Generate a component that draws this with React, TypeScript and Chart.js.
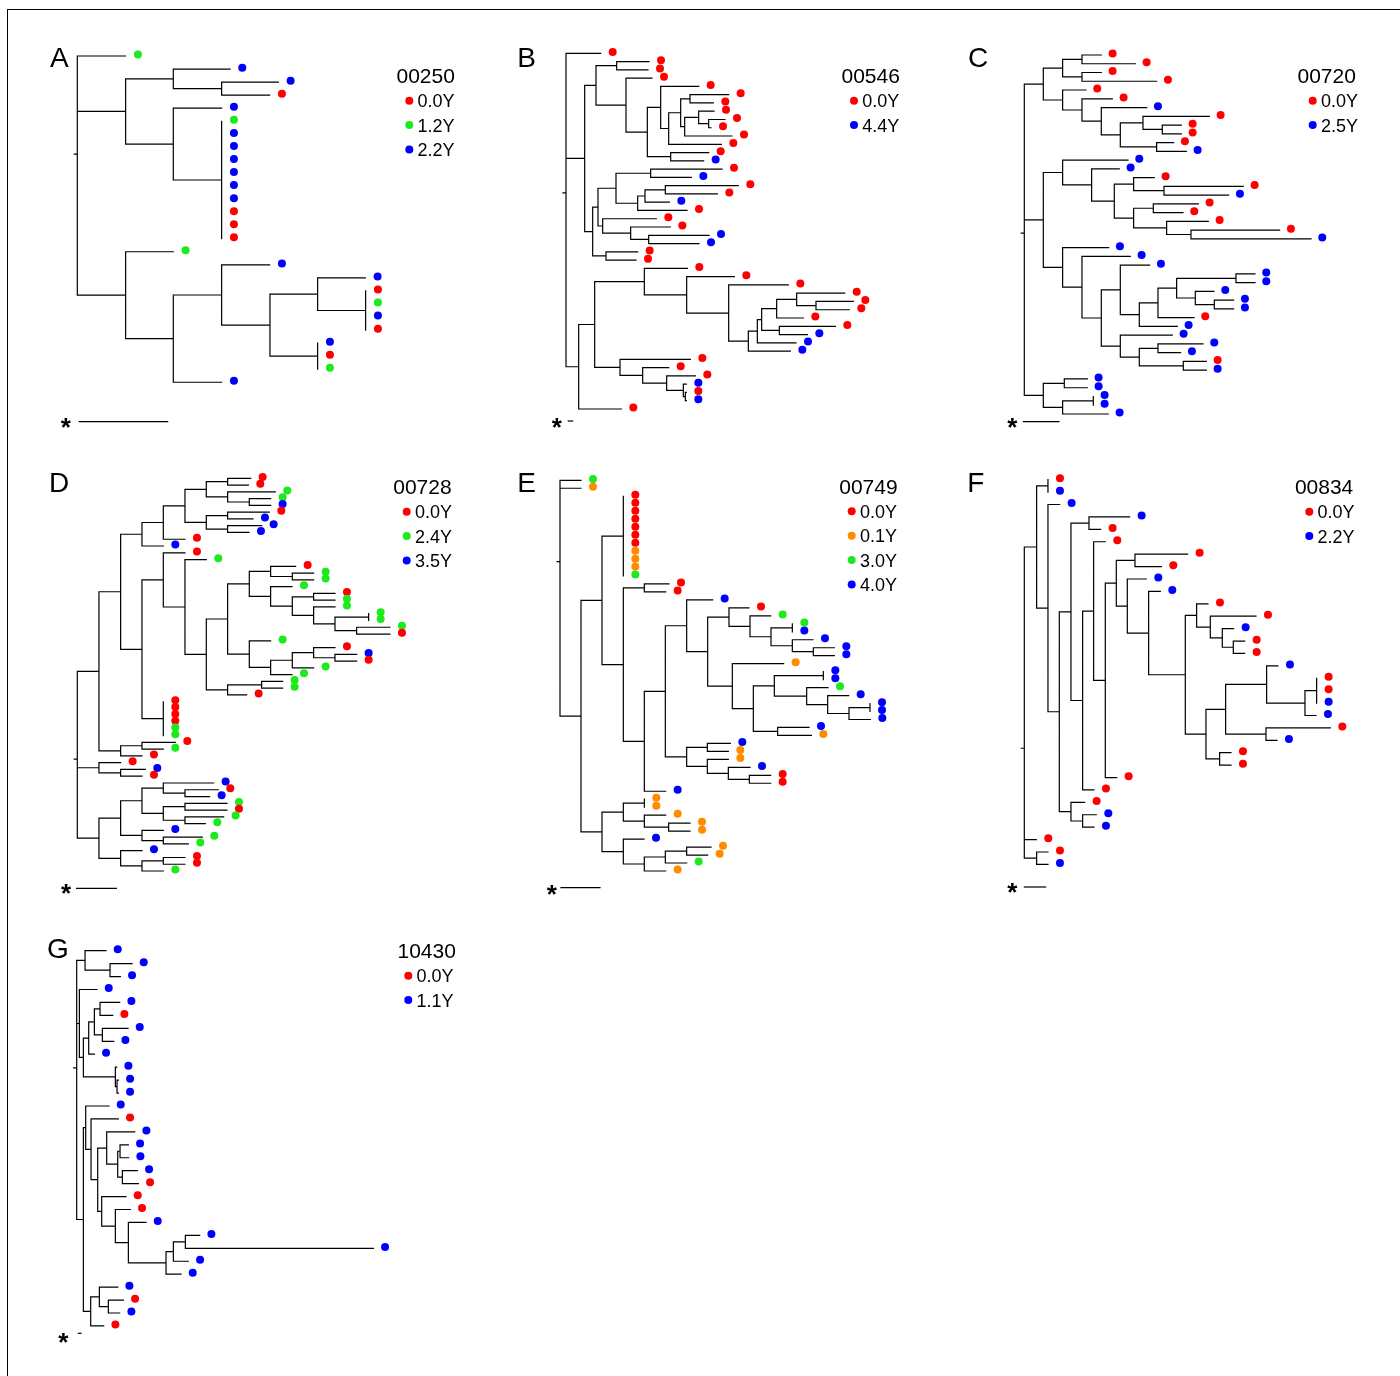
import React, { useEffect, useRef } from "react";
import { Chart, registerables } from "chart.js";

Chart.register(...registerables);

// ---------------- colours ----------------
const RED = "#ff0000";
const GREEN = "#1de91d";
const BLUE = "#0000ff";
const ORANGE = "#ff8c00";

// ---------------- data ----------------
const PANEL_LETTERS = ["A", "B", "C", "D", "E", "F", "G"];
const PATIENT_IDS = ["00250", "00546", "00720", "00728", "00749", "00834", "10430"];

const YEARS_A = ["0.0Y", "1.2Y", "2.2Y"];
const COLORS_A = [RED, GREEN, BLUE];
const YEARS_B = ["0.0Y", "4.4Y"];
const COLORS_B = [RED, BLUE];
const YEARS_C = ["0.0Y", "2.5Y"];
const COLORS_C = [RED, BLUE];
const YEARS_D = ["0.0Y", "2.4Y", "3.5Y"];
const COLORS_D = [RED, GREEN, BLUE];
const YEARS_E = ["0.0Y", "0.1Y", "3.0Y", "4.0Y"];
const COLORS_E = [RED, ORANGE, GREEN, BLUE];
const YEARS_F = ["0.0Y", "2.2Y"];
const COLORS_F = [RED, BLUE];
const YEARS_G = ["0.0Y", "1.1Y"];
const COLORS_G = [RED, BLUE];

// scale-bar lengths, in branch-length units
const SCALE_BAR_LENGTHS = [265, 13, 107, 119, 117, 64, 8];

// Trees in Newick form: tip name = index of the sampling time in the legend,
// branch lengths in branch-length units.
const TREE_A =
  "(1:145,((2:170,(2:170,0:144):145):143,(2:145,(1:0,2:0,2:0,2:0,2:0,2:0,2:0,0:0,0:0,0:0):145):143):145,(1:143,((2:144,((2:143,(0:0,1:0,2:0,0:0):144):143,(2:0,0:0,1:0):143):145):145,2:145):143):145);";

const B_TOP =
  "((0:97,0:94):62,(0:78,((0:114,(((0:116,0:70):28,((0:46,(0:49,0:7):30):42,0:142):12):36,0:158):24):40,(0:114,1:99):70):64):90)";
const B_MID =
  "((((0:214,1:122):104,(((0:219,0:156):61,1:73):22,0:148):65):54,(0:161,(0:119,(1:181,1:151):54):84):14):16,(0:95,0:90):40)";
const B_LOW =
  "(((0:129,(0:143,(0:179,(((((0:144,(0:112,0:100):58):60,0:80):45,(0:168,1:84):53):13,1:116):27,1:126):59):126):127):149,(0:211,(0:78,(0:86,(1:9,(0:3,1:3):6):50):72):68):76):48,0:128)";
const TREE_B = `(0:104,(${B_TOP}:34,${B_MID}:24):56,${B_LOW}:38);`;

const C_TOP =
  "(((0:58,0:160):58,(0:58,0:224):58):58,(0:70,(0:91,(1:136,((0:199,(0:57,0:57):58):68,(0:51,1:89):109):57):58):58):58)";
const C_MID1 =
  "(1:196,(1:83,((0:62,(0:238,1:194):91):58,((0:135,0:89):59,(0:125,(0:266,1:360):73):99):58):68):87)";
const C_MID2 =
  "(1:138,(1:145,((1:88,((((1:57,1:57):178,(1:56,(1:58,1:58):57):56):56,0:108):56,1:114):57):57,(1:156,((1:135,1:68):56,(0:69,1:69):132):57):57):58):58)";
const C_LOW = "((1:69,1:69):63,((1:0,1:0):92,1:137):58)";
const TREE_C = `(${C_TOP}:57,(${C_MID1}:58,${C_MID2}:58):57,${C_LOW}:57);`;

const D_TOP =
  "(((((0:69,0:62):64,(1:143,(1:64,2:64):65):64):64,((0:125,2:76):64,(2:102,2:64):64):64):65,0:65):64,2:64)";
const D_M =
  "((0:75,(1:64,1:64):65):64,(1:64,((0:64,1:64):64,(1:64,((1:0,1:0):101,(1:100,0:100):65):64):64):65):64)";
const D_N = "(1:64,(((0:64,(2:65,0:65):64):64,1:64):65,1:64):64)";
const D_J = `((${D_M}:65,${D_N}:65):64,((1:63,1:63):102,0:57):64)`;
const D_B = `((0:65,(1:64,${D_J}:64):65):64,(0:0,0:0,0:0,0:0,1:0,1:0):64)`;
const D_DA = `((${D_TOP}:64,${D_B}:64):65,((0:100,1:64):64,0:64):65)`;
const D_DC =
  "((((2:151,(0:100,2:74):65):64,((1:126,0:126):65,(1:116,1:61):65):64):64,(2:64,(1:117,1:75):64):64):65,(2:64,((0:65,0:65):64,1:64):64):65)";
const TREE_D = `(${D_DA}:65,(0:65,(2:74,0:64):65):65,${D_DC}:65);`;

const E_B8 = "(0:60,(2:62,((2:0,3:0):64,(3:62,(3:63,3:63):63):64):63):63)";
const E_B9 =
  "(1:154,(((3:0,3:0):147,(2:64,(3:63,((3:0,3:0):63,3:64):64):63):97):63,(3:94,1:101):73):63)";
const E_B6 = "((3:69,1:63):62,(1:63,(3:65,(0:64,0:64):63):63):62)";
const E_B4 = `((3:78,(${E_B8}:64,${E_B9}:74):63):64,${E_B6}:64)`;
const E_EB = `((0:0,0:0,0:0,0:0,0:0,0:0,0:0,1:0,1:0,1:0,2:0):64,((0:74,0:64):63,(${E_B4}:63,3:64):63):64)`;
const E_EC =
  "(((1:0,1:0):63,(1:64,(1:64,1:64):73):63):64,(3:62,(((1:73,1:63):64,2:64):63,1:64):63):64)";
const TREE_E = `(2:63,1:63,(${E_EB}:63,${E_EC}:63):63);`;

const F_A14 = "(0:34,(0:137,(1:34,(0:34,0:34):33):36):41)";
const F_A15 = "(((1:34,((0:0,0:0,1:0):35,1:33):115):123,(0:193,1:33):121):59,(0:34,0:34):41)";
const F_A9 = `((0:158,0:79):56,(1:57,(1:35,(${F_A14}:34,${F_A15}:62):110):64):33)`;
const F_A3 = `((1:122,0:35):54,((0:35,(${F_A9}:33,0:34):35):33,0:34):35)`;
const F_FA = `((0:0,1:0):34,(1:35,(${F_A3}:35,(0:41,(1:41,1:34):35):35):34):34)`;
const TREE_F = `(${F_FA}:37,0:36,(0:34,1:34):37);`;

const G_A = "(1:63,(1:66,1:31):75)";
const G_B = "(1:53,((((1:59,0:38):17,(1:77,1:34):24):17,1:17):16,(1:4,(1:4,1:4):5):96):12)";
const G_C =
  "((1:70,(0:82,((1:84,((1:25,1:26):7,(1:45,0:48):14):33):27,(0:73,(0:45,(1:53,(((1:43,1:564):36,1:45):22,1:45):113):39):41):12):20):16):7,((1:55,(0:45,1:34):27):26,0:39):22)";
const TREE_G = `(${G_A}:25,${G_B}:8,${G_C}:20);`;

const TREES = [TREE_A, TREE_B, TREE_C, TREE_D, TREE_E, TREE_F, TREE_G];
const YEARS = [YEARS_A, YEARS_B, YEARS_C, YEARS_D, YEARS_E, YEARS_F, YEARS_G];
const COLORS = [COLORS_A, COLORS_B, COLORS_C, COLORS_D, COLORS_E, COLORS_F, COLORS_G];

// ---------------- layout (page pixels) ----------------
const UNIT_PX = 1 / 3; // pixels per branch-length unit
const DOT_R = 4;
const DOT_DY = -1.4;
const ROOT_STUB_PX = 3;
const LEGEND_STEP = 24.4;
const FONT = "'Liberation Sans', Arial, Helvetica, sans-serif";

const LAYOUT = [
  { box: [40, 40, 430, 400], rootX: 77.3, tipY0: 56, tipStep: 13.05, dotDx: 12.3, letterXY: [50, 66.7], titleXY: [396.5, 82.7], legendX: 409.3, legendY0: 100.7, starXY: [65.7, 422.7], barXY: [79.3, 421.7] },
  { box: [505, 40, 410, 400], rootX: 566, tipY0: 53.3, tipStep: 8.272, dotDx: 12, letterXY: [517.3, 66.7], titleXY: [841.5, 82.7], legendX: 854, legendY0: 100.7, starXY: [556.7, 423.3], barXY: [568.3, 421] },
  { box: [955, 40, 440, 400], rootX: 1024.3, tipY0: 55, tipStep: 8.756, dotDx: 11.3, letterXY: [967.9, 67.3], titleXY: [1297.5, 82.7], legendX: 1312.7, legendY0: 100.7, starXY: [1012.3, 423.3], barXY: [1023.3, 421.7] },
  { box: [40, 465, 430, 430], rootX: 77.3, tipY0: 478.3, tipStep: 6.771, dotDx: 12, letterXY: [49, 491.7], titleXY: [393.2, 494.3], legendX: 406.7, legendY0: 511.7, starXY: [66, 889.3], barXY: [76.7, 888.3] },
  { box: [505, 465, 410, 430], rootX: 560, tipY0: 480.3, tipStep: 7.973, dotDx: 12, letterXY: [517.3, 491.7], titleXY: [839.2, 494.3], legendX: 851.7, legendY0: 511.3, starXY: [551.7, 890], barXY: [561, 887.7] },
  { box: [955, 465, 440, 430], rootX: 1024.3, tipY0: 479.7, tipStep: 12.41, dotDx: 12, letterXY: [967.3, 491.7], titleXY: [1294.9, 494.3], legendX: 1309.3, legendY0: 511.7, starXY: [1012.3, 887.7], barXY: [1024.3, 887] },
  { box: [40, 930, 430, 420], rootX: 76.7, tipY0: 950.7, tipStep: 12.94, dotDx: 11.7, letterXY: [47, 957.7], titleXY: [397.5, 958.3], legendX: 408.3, legendY0: 975.7, starXY: [63.3, 1338], barXY: [78.3, 1333.3] },
];

// ---------------- tree helpers ----------------
type TNode = { children: TNode[]; len: number; label: string; x: number; y: number };

function parseNewick(s: string): TNode {
  let i = 0;
  function node(): TNode {
    const n: TNode = { children: [], len: 0, label: "", x: 0, y: 0 };
    if (s[i] === "(") {
      i++;
      n.children.push(node());
      while (s[i] === ",") {
        i++;
        n.children.push(node());
      }
      i++; // ')'
    }
    let lab = "";
    while (i < s.length && !",():;".includes(s[i])) lab += s[i++];
    n.label = lab.trim();
    if (s[i] === ":") {
      i++;
      let num = "";
      while (i < s.length && !",();".includes(s[i])) num += s[i++];
      n.len = parseFloat(num);
    }
    return n;
  }
  return node();
}

function layoutTree(root: TNode): TNode[] {
  const tips: TNode[] = [];
  const walk = (n: TNode, px: number, isRoot: boolean) => {
    n.x = isRoot ? 0 : px + n.len;
    if (n.children.length === 0) {
      n.y = tips.length;
      tips.push(n);
    } else {
      n.children.forEach((c) => walk(c, n.x, false));
      n.y = n.children.reduce((a, c) => a + c.y, 0) / n.children.length;
    }
  };
  walk(root, 0, true);
  return tips;
}

type Pt = { x: number; y: number };

function branchSegments(root: TNode, stub: number): Pt[] {
  const pts: Pt[] = [];
  const gap = { x: NaN, y: NaN };
  pts.push({ x: -stub, y: root.y }, { x: 0, y: root.y }, gap);
  const walk = (n: TNode) => {
    if (n.children.length) {
      const ys = n.children.map((c) => c.y);
      const lo = Math.min(...ys);
      const hi = Math.max(...ys);
      if (hi > lo) pts.push({ x: n.x, y: lo }, { x: n.x, y: hi }, gap);
      n.children.forEach((c) => {
        if (c.x > n.x) pts.push({ x: n.x, y: c.y }, { x: c.x, y: c.y }, gap);
        walk(c);
      });
    }
  };
  walk(root);
  return pts;
}

const PANELS = LAYOUT.map((l, i) => ({
  ...l,
  letter: PANEL_LETTERS[i],
  id: PATIENT_IDS[i],
  years: YEARS[i],
  colors: COLORS[i],
  tree: TREES[i],
  scaleLen: SCALE_BAR_LENGTHS[i],
}));

type PanelT = (typeof PANELS)[number];

function makeTextPlugin(p: PanelT) {
  return {
    id: "panelText" + p.letter,
    afterDraw(chart: any) {
      const ctx: CanvasRenderingContext2D = chart.ctx;
      const bx = p.box[0];
      const by = p.box[1];
      ctx.save();
      ctx.fillStyle = "#000";
      ctx.textAlign = "left";
      ctx.textBaseline = "alphabetic";
      ctx.font = `28px ${FONT}`;
      ctx.fillText(p.letter, p.letterXY[0] - bx, p.letterXY[1] - by);
      ctx.font = `21px ${FONT}`;
      ctx.fillText(p.id, p.titleXY[0] - bx, p.titleXY[1] - by);
      ctx.font = `18px ${FONT}`;
      p.years.forEach((lab, k) => {
        const y = p.legendY0 + k * LEGEND_STEP - by;
        ctx.beginPath();
        ctx.fillStyle = p.colors[k];
        ctx.arc(p.legendX - bx, y, DOT_R, 0, Math.PI * 2);
        ctx.fill();
        ctx.fillStyle = "#000";
        ctx.fillText(lab, p.legendX + 8.3 - bx, y + 6.4);
      });
      ctx.font = `bold 26px ${FONT}`;
      ctx.textAlign = "center";
      const m = ctx.measureText("*");
      ctx.fillText(
        "*",
        p.starXY[0] - bx,
        p.starXY[1] - by + (m.actualBoundingBoxAscent - m.actualBoundingBoxDescent) / 2
      );
      ctx.restore();
    },
  };
}

function TreePanel({ p }: { p: PanelT }) {
  const ref = useRef<HTMLCanvasElement | null>(null);
  const [left, top, w, h] = p.box;

  useEffect(() => {
    const canvas = ref.current;
    if (!canvas) return;
    const root = parseNewick(p.tree);
    const tips = layoutTree(root);

    const toX = (px: number) => (px - p.rootX) / UNIT_PX;
    const toY = (py: number) => (py - p.tipY0) / p.tipStep;

    const branches = branchSegments(root, ROOT_STUB_PX / UNIT_PX);
    const dots = tips.map((t) => ({ x: t.x + p.dotDx / UNIT_PX, y: t.y + DOT_DY / p.tipStep }));
    const dotColors = tips.map((t) => p.colors[parseInt(t.label, 10)] || "#000");
    const barX0 = toX(p.barXY[0]);
    const barY = toY(p.barXY[1]);
    const scaleBar = [
      { x: barX0, y: barY },
      { x: barX0 + p.scaleLen, y: barY },
    ];

    const lineStyle = {
      type: "line" as const,
      showLine: true,
      borderColor: "#000",
      borderWidth: 1.2,
      borderCapStyle: "square" as const,
      pointRadius: 0,
      pointHoverRadius: 0,
      spanGaps: false,
      fill: false,
      tension: 0,
      clip: false as any,
    };

    const chart = new Chart(canvas, {
      type: "scatter",
      data: {
        datasets: [
          { ...lineStyle, data: branches } as any,
          { ...lineStyle, data: scaleBar } as any,
          {
            type: "scatter",
            data: dots,
            pointRadius: DOT_R,
            pointHoverRadius: DOT_R,
            pointBackgroundColor: dotColors,
            pointBorderWidth: 0,
            borderWidth: 0,
            clip: false as any,
          } as any,
        ],
      },
      options: {
        animation: false,
        responsive: false,
        maintainAspectRatio: false,
        events: [],
        layout: { padding: 0, autoPadding: false },
        plugins: { legend: { display: false }, tooltip: { enabled: false }, title: { display: false } },
        scales: {
          x: {
            type: "linear",
            display: false,
            bounds: "data",
            min: toX(left),
            max: toX(left + w),
          },
          y: {
            type: "linear",
            display: false,
            bounds: "data",
            reverse: true,
            min: toY(top),
            max: toY(top + h),
          },
        },
      } as any,
      plugins: [makeTextPlugin(p)],
    });
    return () => chart.destroy();
  }, []);

  return (
    <canvas
      ref={ref}
      width={w}
      height={h}
      style={{ position: "absolute", left, top, width: w, height: h, display: "block" }}
    />
  );
}

export default function App() {
  return (
    <div>
      <div
        style={{
          position: "absolute",
          left: 7,
          top: 9,
          width: 1393,
          height: 1367,
          borderTop: "1px solid #000",
          borderLeft: "1px solid #000",
          boxSizing: "border-box",
        }}
      />
      {PANELS.map((p, i) => (
        <TreePanel key={i} p={p} />
      ))}
    </div>
  );
}
